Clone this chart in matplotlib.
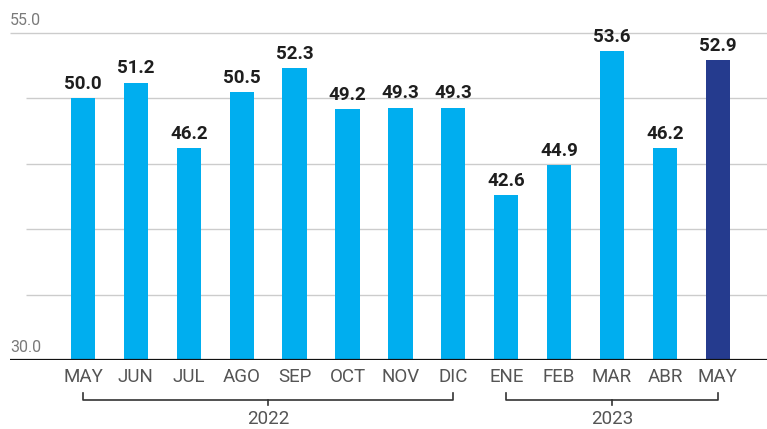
import matplotlib.pyplot as plt

months = ['MAY', 'JUN', 'JUL', 'AGO', 'SEP', 'OCT', 'NOV', 'DIC',
          'ENE', 'FEB', 'MAR', 'ABR', 'MAY']
values = [50.0, 51.2, 46.2, 50.5, 52.3, 49.2, 49.3, 49.3,
          42.6, 44.9, 53.6, 46.2, 52.9]
years = ['2022', '2023']
year_spans = [(0, 7), (8, 12)]

light = '#00AEEF'
dark = '#253B8E'
colors = [light] * (len(values) - 1) + [dark]

plt.rcParams['font.family'] = ['Roboto', 'DejaVu Sans']

fig = plt.figure(figsize=(7.67, 4.29), dpi=100)
ax = fig.add_axes([10 / 767, 1 - 360 / 429, 757 / 767, (360 - 33) / 429])

x = list(range(len(values)))
ax.set_xlim(-1.38, 12.93)
ax.set_ylim(30, 55)

# gridlines
for g in [35, 40, 45, 50]:
    ax.hlines(g, -1.08, 12.93, color='#cccccc', lw=1.0, zorder=0)
ax.hlines(55, -1.38, 12.93, color='#cccccc', lw=1.0, zorder=0, clip_on=False)

ax.bar(x, values, width=0.46, color=colors, zorder=2)
ax.axhline(30, color='#111111', lw=1.6, zorder=3)

for xi, v in zip(x, values):
    ax.text(xi, v + 0.4, f'{v:.1f}', ha='center', va='bottom',
            fontsize=13.5, fontweight='bold', color='#1e1e1e')

ax.text(-1.38, 55.4, '55.0', ha='left', va='bottom', fontsize=11.5, color='#7a7a7a')
ax.text(-1.38, 30.4, '30.0', ha='left', va='bottom', fontsize=11.5, color='#7a7a7a')

for s in ax.spines.values():
    s.set_visible(False)
ax.set_yticks([])
ax.set_xticks(x)
ax.set_xticklabels(months, fontsize=13.5, color='#555555')
ax.tick_params(axis='x', length=0, pad=6)

# year brackets
trans = ax.get_xaxis_transform()
yb = -40 / 327
for (a, b), yr in zip(year_spans, years):
    ax.plot([a, a, b, b], [yb + 0.022, yb, yb, yb + 0.022], transform=trans,
            color='#333333', lw=1.2, clip_on=False)
    m = (a + b) / 2
    ax.plot([m, m], [yb, yb - 0.015], transform=trans, color='#333333',
            lw=1.2, clip_on=False)
    ax.text(m, yb - 0.03, yr, transform=trans, ha='center', va='top',
            fontsize=13.5, color='#555555')

fig.savefig('out.png', dpi=100)
